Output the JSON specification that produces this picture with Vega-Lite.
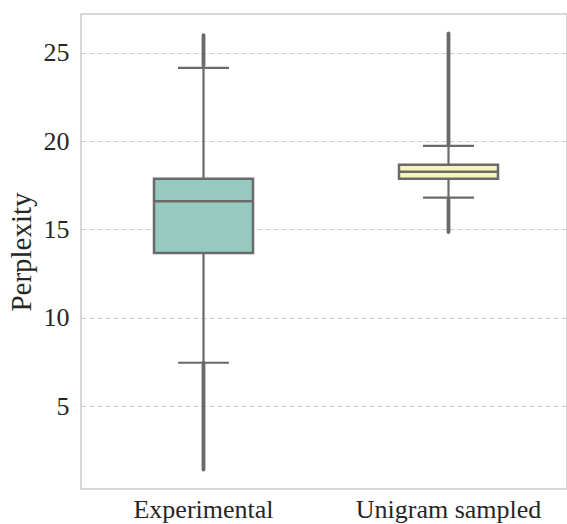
{
  "$schema": "https://vega.github.io/schema/vega-lite/v6.json",
  "width": 486,
  "height": 475,
  "autosize": {"type": "none"},
  "padding": {"left": 81, "top": 14, "right": 0, "bottom": 35},
  "background": "white",
  "config": {
    "view": {"stroke": "#cccccc", "strokeWidth": 1.5},
    "font": "Liberation Serif",
    "axis": {
      "labelFont": "Liberation Serif",
      "titleFont": "Liberation Serif",
      "labelFontSize": 26,
      "titleFontSize": 29,
      "titleFontWeight": "normal",
      "labelColor": "#262626",
      "titleColor": "#262626",
      "labelLimit": 0,
      "domain": false,
      "ticks": false
    }
  },
  "datasets": {
    "stats": [
      {"group": "Experimental", "lower": 7.45, "q1": 13.67, "median": 16.6, "q3": 17.87, "upper": 24.15},
      {"group": "Unigram sampled", "lower": 16.8, "q1": 17.87, "median": 18.26, "q3": 18.66, "upper": 19.73}
    ],
    "outliers": [
      {"group": "Experimental", "lo": 1.4, "hi": 7.45},
      {"group": "Experimental", "lo": 24.3, "hi": 26.0},
      {"group": "Unigram sampled", "lo": 19.8, "hi": 26.1},
      {"group": "Unigram sampled", "lo": 14.85, "hi": 16.7}
    ]
  },
  "encoding": {
    "x": {
      "field": "group",
      "type": "nominal",
      "sort": ["Experimental", "Unigram sampled"],
      "scale": {"paddingInner": 0, "paddingOuter": 0, "range": [0, 490]},
      "axis": {"title": null, "labelAngle": 0, "labelPadding": 7, "grid": false}
    }
  },
  "layer": [
    {
      "data": {"name": "stats"},
      "mark": {"type": "rule", "color": "#cccccc", "opacity": 0},
      "encoding": {
        "y": {
          "field": "median",
          "type": "quantitative",
          "scale": {"domain": [0.3, 27.2], "nice": false, "zero": false},
          "axis": {
            "title": "Perplexity",
            "values": [5, 10, 15, 20, 25],
            "grid": true,
            "gridColor": "#cccccc",
            "gridDash": [5, 3],
            "gridWidth": 1.2,
            "labelPadding": 12,
            "titlePadding": 7
          }
        }
      }
    },
    {
      "data": {"name": "outliers"},
      "mark": {"type": "rule", "color": "#6a6a6a", "strokeWidth": 3.8, "strokeCap": "round"},
      "encoding": {
        "y": {"field": "lo", "type": "quantitative"},
        "y2": {"field": "hi"}
      }
    },
    {
      "data": {"name": "stats"},
      "mark": {"type": "rule", "color": "#6a6a6a", "strokeWidth": 2.2},
      "encoding": {
        "y": {"field": "lower", "type": "quantitative"},
        "y2": {"field": "upper"}
      }
    },
    {
      "data": {"name": "stats"},
      "mark": {"type": "tick", "color": "#6a6a6a", "size": 51, "thickness": 2.2, "opacity": 1},
      "encoding": {
        "y": {"field": "lower", "type": "quantitative"}
      }
    },
    {
      "data": {"name": "stats"},
      "mark": {"type": "tick", "color": "#6a6a6a", "size": 51, "thickness": 2.2, "opacity": 1},
      "encoding": {
        "y": {"field": "upper", "type": "quantitative"}
      }
    },
    {
      "data": {"name": "stats"},
      "mark": {"type": "bar", "size": 99, "stroke": "#6a6a6a", "strokeWidth": 2.5, "opacity": 1},
      "encoding": {
        "y": {"field": "q1", "type": "quantitative"},
        "y2": {"field": "q3"},
        "color": {
          "field": "group",
          "type": "nominal",
          "scale": {"domain": ["Experimental", "Unigram sampled"], "range": ["#96cac1", "#f6f6bc"]},
          "legend": null
        }
      }
    },
    {
      "data": {"name": "stats"},
      "mark": {"type": "tick", "color": "#6a6a6a", "size": 97, "thickness": 2.5, "opacity": 1},
      "encoding": {
        "y": {"field": "median", "type": "quantitative"}
      }
    }
  ]
}
